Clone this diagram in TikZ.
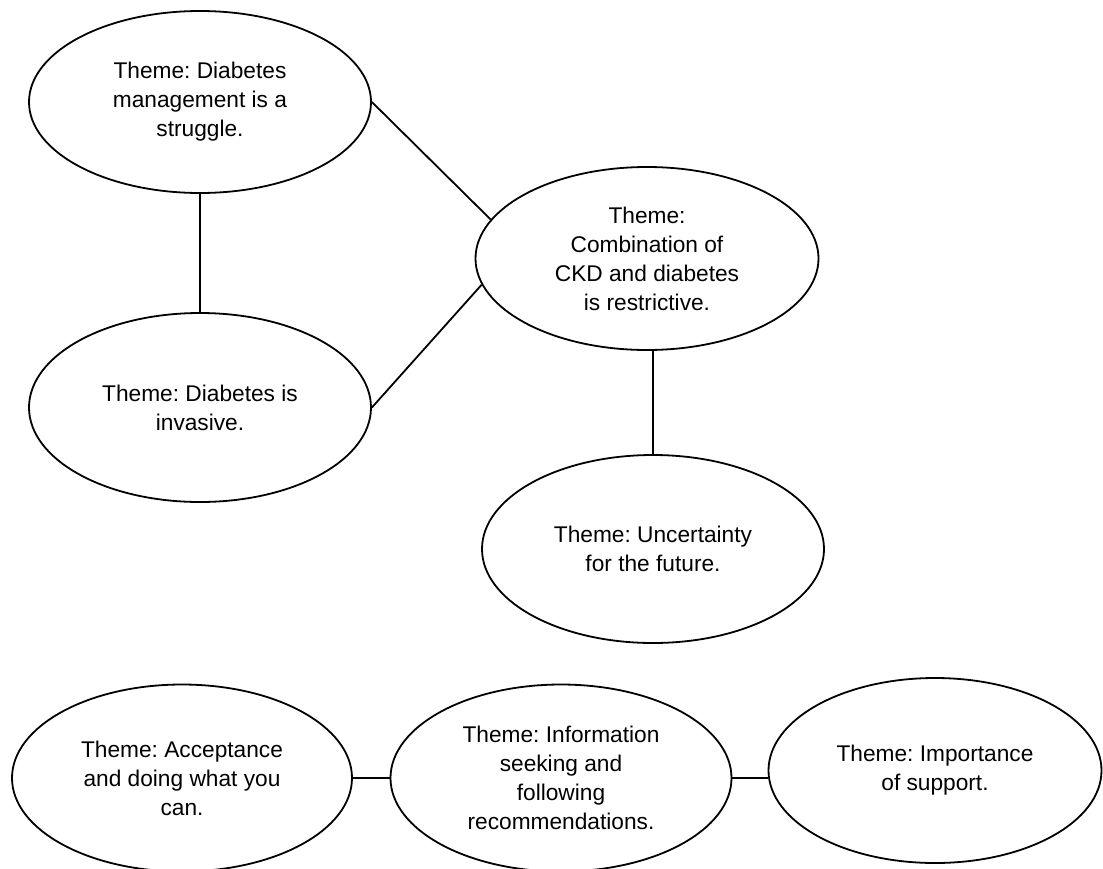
\documentclass[tikz,border=0pt]{standalone}
\usepackage{fontspec}
\setmainfont{Liberation Sans}
\frenchspacing
\usetikzlibrary{shapes.geometric}

\begin{document}
\begin{tikzpicture}[x=1pt,y=-1pt,line width=1.8pt,theme/.style n args={2}{ellipse,draw,minimum width=#1pt,minimum height=#2pt,inner sep=0pt,align=center,font=\fontsize{22.7}{29}\selectfont}]
\useasboundingbox (0,0) rectangle (1103,868);
\node[theme={342}{182}] (strug) at (200,102) {Theme: Diabetes\\management is a\\struggle.};
\node[theme={342}{189}] (invas) at (200,407.5) {Theme: Diabetes is\\invasive.};
\node[theme={343}{183}] (restr) at (647,258.5) {Theme:\\Combination of\\CKD and diabetes\\is restrictive.};
\node[theme={342}{188}] (uncert) at (653,549) {Theme: Uncertainty\\for the future.};
\node[theme={340}{187}] (accept) at (182,778) {Theme: Acceptance\\and doing what you\\can.};
\node[theme={341}{187}] (inform) at (561,778) {Theme: Information\\seeking and\\following\\recommendations.};
\node[theme={333}{185}] (support) at (935,770.5) {Theme: Importance\\of support.};
\draw (strug) -- (invas);
\draw (strug.east) -- (restr.166);
\draw (invas.east) -- (restr.189);
\draw (uncert.north |- restr.south) -- (uncert.north);
\draw (accept) -- (inform);
\draw (inform.east) -- (inform.east -| support.west);
\end{tikzpicture}
\end{document}
